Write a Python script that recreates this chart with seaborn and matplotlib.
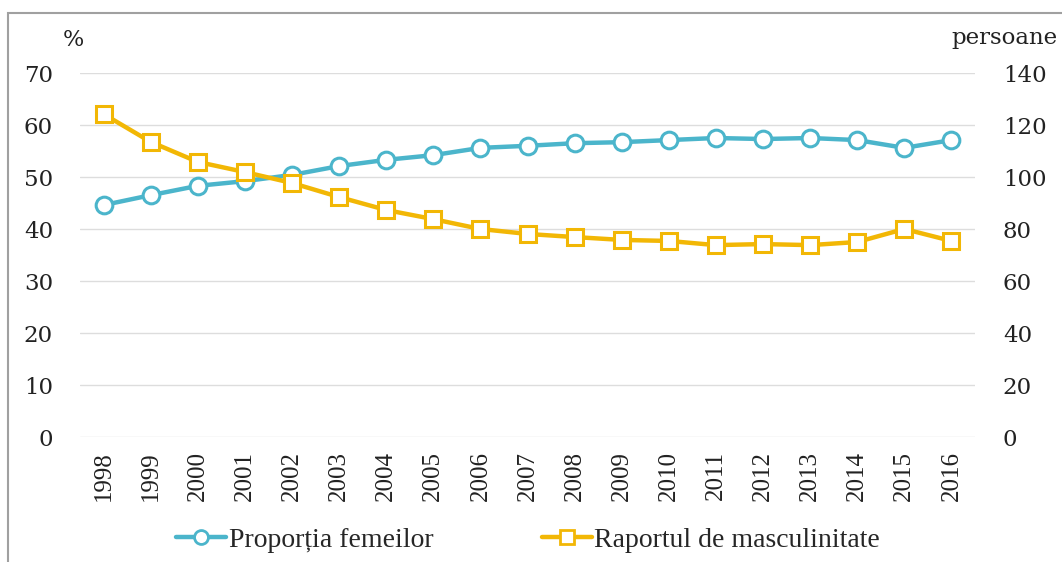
import numpy as np
import pandas as pd
import matplotlib.pyplot as plt
import seaborn as sns
from matplotlib.patches import Rectangle
from matplotlib.lines import Line2D

# data
years = list(range(1998, 2017))
proportia_femeilor = [44.6, 46.5, 48.3, 49.2, 50.4, 52.1, 53.3, 54.2, 55.6, 56.0,
                      56.5, 56.7, 57.1, 57.5, 57.3, 57.5, 57.1, 55.6, 57.1]
raportul_masculinitate = [124.2, 113.5, 105.8, 101.9, 97.7, 92.3, 87.3, 83.8, 80.0, 78.1,
                          76.9, 75.8, 75.4, 73.8, 74.2, 73.8, 75.0, 80.0, 75.4]
left_ticks = [0, 10, 20, 30, 40, 50, 60, 70]
right_ticks = [0, 20, 40, 60, 80, 100, 120, 140]

df = pd.DataFrame({'an': years, 'femei': proportia_femeilor, 'raport': raportul_masculinitate})

sns.set_style('white')
plt.rcParams['font.family'] = ['Liberation Serif', 'DejaVu Serif']

blue = '#4BB5CB'
orange = '#F2B705'
txt = '#222222'
num_font = ['DejaVu Serif']

fig = plt.figure(figsize=(10.62, 5.62), dpi=100)
ax = fig.add_axes([80 / 1062, 1 - 437 / 562, 895 / 1062, 364 / 562])
ax2 = ax.twinx()

sns.lineplot(data=df, x='an', y='femei', ax=ax, color=blue, linewidth=3.2,
             marker='o', markersize=12, markerfacecolor='white',
             markeredgecolor=blue, markeredgewidth=2.2, zorder=3)
sns.lineplot(data=df, x='an', y='raport', ax=ax2, color=orange, linewidth=3.2,
             marker='s', markersize=12, markerfacecolor='white',
             markeredgecolor=orange, markeredgewidth=2.2, zorder=3)

ax.set_ylim(0, 70)
ax2.set_ylim(0, 140)
ax.set_xlim(1997.5, 2016.5)
ax.set_yticks(left_ticks)
ax2.set_yticks(right_ticks)
ax.set_xticks(years)
ax.set_xticklabels([str(y) for y in years], rotation=90, fontsize=18)
ax.tick_params(axis='y', length=0, pad=19.5, colors=txt)
ax2.tick_params(axis='y', length=0, pad=20, colors=txt)
for lab in ax.get_yticklabels() + ax2.get_yticklabels():
    lab.set_fontfamily(num_font)
    lab.set_fontsize(16.5)
ax.tick_params(axis='x', length=0, pad=10, colors=txt)
ax.set_xlabel('')
ax.set_ylabel('')
ax2.set_ylabel('')

ax.yaxis.grid(True, color='#DDDDDD', linewidth=1)
ax.set_axisbelow(True)
for a in (ax, ax2):
    for s in a.spines.values():
        s.set_visible(False)

fig.text(63 / 1062, 1 - 40 / 562, '%', fontsize=16, family=num_font,
         va='center', ha='left', color=txt)
fig.text(1058 / 1062, 1 - 38 / 562, 'persoane', fontsize=16.5, family=num_font,
         va='center', ha='right', color=txt)

handles = [
    Line2D([], [], color=blue, linewidth=3.2, marker='o', markersize=10,
           markerfacecolor='white', markeredgecolor=blue, markeredgewidth=2),
    Line2D([], [], color=orange, linewidth=3.2, marker='s', markersize=10,
           markerfacecolor='white', markeredgecolor=orange, markeredgewidth=2),
]
fig.legend(handles, ['Proporția femeilor', 'Raportul de masculinitate'],
           loc='center', bbox_to_anchor=(528 / 1062, 1 - 540 / 562), ncol=2,
           frameon=False, fontsize=20, handlelength=1.8, handletextpad=0.1,
           columnspacing=3.9)

# grey frame around the picture
fig.add_artist(Rectangle((8 / 1062, -0.1), 1.2, 1.0 - 13 / 562 + 0.1,
                         transform=fig.transFigure, fill=False,
                         edgecolor='#A0A0A0', linewidth=1.5))

fig.savefig('out.png', dpi=100)
